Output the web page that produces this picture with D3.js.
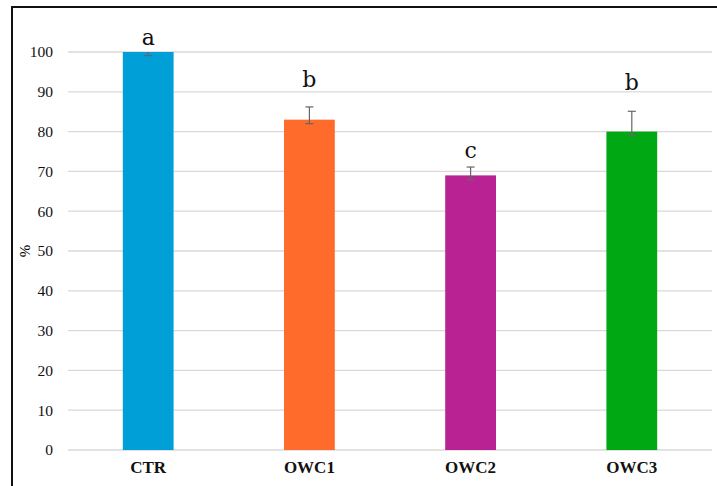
<!DOCTYPE html>
<html>
<head>
<meta charset="utf-8">
<script src="https://cdn.jsdelivr.net/npm/d3@7"></script>
<style>
  body { margin: 0; background: #fff; }
  svg { display: block; }
</style>
</head>
<body>
<div id="chart"></div>
<script>
// data
const groups = ["CTR", "OWC1", "OWC2", "OWC3"];
const values = [100, 83, 69, 80];
const errUp = [0, 3.2, 2.1, 5.1];
const errDown = [0.9, 1.0, 1.1, 1.0];
const letters = ["a", "b", "c", "b"];
const letterAt = [101.7, 91.2, 73.4, 90.4];
const colors = ["#009fd8", "#ff6b2b", "#b92293", "#00a814"];
const yTicks = [0, 10, 20, 30, 40, 50, 60, 70, 80, 90, 100];

const width = 717;
const height = 486;
const margin = { top: 52, right: 5, bottom: 36, left: 68 };
const serif = "'Liberation Serif', 'DejaVu Serif', serif";

const svg = d3.select("#chart")
  .append("svg")
  .attr("width", width)
  .attr("height", height);

// frame
svg.append("rect")
  .attr("x", 12)
  .attr("y", 7)
  .attr("width", width + 20)
  .attr("height", height + 20)
  .attr("fill", "none")
  .attr("stroke", "#111")
  .attr("stroke-width", 2);

const x = d3.scaleBand()
  .domain(groups)
  .range([margin.left, width - margin.right])
  .paddingInner(0.685)
  .paddingOuter(0.34);

const y = d3.scaleLinear()
  .domain([0, 100])
  .range([height - margin.bottom, margin.top]);

// gridlines
svg.append("g")
  .selectAll("line")
  .data(yTicks)
  .enter()
  .append("line")
  .attr("x1", margin.left)
  .attr("x2", width - margin.right)
  .attr("y1", d => y(d))
  .attr("y2", d => y(d))
  .attr("stroke", "#d9d9d9")
  .attr("stroke-width", 1.3);

// y axis labels
const yAxis = svg.append("g")
  .attr("transform", `translate(${margin.left - 15},0)`)
  .call(d3.axisLeft(y).tickValues(yTicks).tickSize(0).tickPadding(0));
yAxis.select(".domain").remove();
yAxis.selectAll("text")
  .style("font-family", serif)
  .style("font-size", "15.5px")
  .attr("fill", "#111");

// y title
svg.append("text")
  .attr("transform", `translate(25, ${y(50)}) rotate(-90)`)
  .attr("text-anchor", "middle")
  .attr("dy", "0.35em")
  .style("font-family", serif)
  .style("font-size", "15px")
  .text("%");

// bars
svg.append("g")
  .selectAll("rect")
  .data(values)
  .enter()
  .append("rect")
  .attr("x", (d, i) => x(groups[i]))
  .attr("y", d => y(d))
  .attr("width", x.bandwidth())
  .attr("height", d => y(0) - y(d))
  .attr("fill", (d, i) => colors[i]);

// error bars
const err = svg.append("g")
  .attr("stroke", "#666")
  .attr("stroke-width", 1.2);
values.forEach((v, i) => {
  const cx = x(groups[i]) + x.bandwidth() / 2;
  const top = y(v + errUp[i]);
  const bot = y(v - errDown[i]);
  err.append("line").attr("x1", cx).attr("x2", cx).attr("y1", top).attr("y2", bot);
  if (errUp[i] > 0) {
    err.append("line").attr("x1", cx - 4).attr("x2", cx + 4).attr("y1", top).attr("y2", top);
  }
  err.append("line").attr("x1", cx - 4).attr("x2", cx + 4).attr("y1", bot).attr("y2", bot);
});

// significance letters
svg.append("g")
  .selectAll("text")
  .data(letters)
  .enter()
  .append("text")
  .attr("x", (d, i) => x(groups[i]) + x.bandwidth() / 2)
  .attr("y", (d, i) => y(letterAt[i]))
  .attr("text-anchor", "middle")
  .style("font-family", "'DejaVu Serif', serif")
  .style("font-size", "22px")
  .attr("fill", "#111")
  .text(d => d);

// x axis labels
const xAxis = svg.append("g")
  .attr("transform", `translate(0,${y(0)})`)
  .call(d3.axisBottom(x).tickSize(0).tickPadding(11));
xAxis.select(".domain").remove();
xAxis.selectAll("text")
  .style("font-family", serif)
  .style("font-size", "17px")
  .style("font-weight", "bold")
  .attr("fill", "#111");
</script>
</body>
</html>
